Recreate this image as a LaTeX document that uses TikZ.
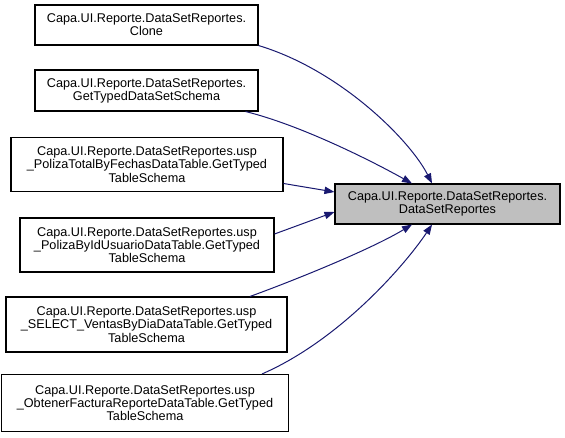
\documentclass[tikz,border=0pt]{standalone}
\usepackage{fontspec}
\setmainfont{Liberation Sans}
\usetikzlibrary{arrows.meta}
\definecolor{edgeblue}{HTML}{191970}
\definecolor{hlgrey}{HTML}{BFBFBF}
\begin{document}
\begin{tikzpicture}[x=0.75pt,y=-0.75pt,
  box/.style={draw=black,line width=0.8pt,fill=white,inner sep=0pt,align=center,
    font=\fontsize{9.5pt}{9.9pt}\selectfont},
  hl/.style={box,fill=hlgrey},
  conn/.style={draw=edgeblue,line width=0.75pt,-{Triangle[length=7.5pt,width=5.5pt]}}]
\useasboundingbox (0,0) rectangle (565,438);
\node[box,minimum width=167.25pt,minimum height=30pt] (n1) at (146.5,25) {Capa.UI.Reporte.DataSetReportes.\\Clone};
\node[box,minimum width=167.25pt,minimum height=30.75pt] (n2) at (146.5,90.5) {Capa.UI.Reporte.DataSetReportes.\\GetTypedDataSetSchema};
\node[box,minimum width=204pt,minimum height=40.5pt] (n3) at (147,164.5) {Capa.UI.Reporte.DataSetReportes.usp\\\_PolizaTotalByFechasDataTable.GetTyped\\TableSchema};
\node[box,minimum width=190.5pt,minimum height=40.5pt] (n4) at (147,245) {Capa.UI.Reporte.DataSetReportes.usp\\\_PolizaByIdUsuarioDataTable.GetTyped\\TableSchema};
\node[box,minimum width=210.75pt,minimum height=41.25pt] (n5) at (146.5,324.5) {Capa.UI.Reporte.DataSetReportes.usp\\\_SELECT\_VentasByDiaDataTable.GetTyped\\TableSchema};
\node[box,minimum width=215.25pt,minimum height=42.75pt] (n6) at (145,403) {Capa.UI.Reporte.DataSetReportes.usp\\\_ObtenerFacturaReporteDataTable.GetTyped\\TableSchema};
\node[hl,minimum width=168.75pt,minimum height=30pt] (t) at (447.5,204) {Capa.UI.Reporte.DataSetReportes.\\DataSetReportes};
\draw[conn] (n1.south east) .. controls (340,70) and (410,140) .. ([xshift=-11.6pt]t.north);
\draw[conn] ([xshift=-9.75pt]n2.south east) .. controls (300,125) and (370,160) .. ([xshift=-26.6pt]t.north);
\draw[conn] ([yshift=-14.25pt]n3.east) -- ([yshift=9pt]t.west);
\draw[conn] ([yshift=8.25pt]n4.east) -- ([yshift=-6pt]t.west);
\draw[conn] ([xshift=77.6pt]n5.north) .. controls (290,282) and (370,250) .. ([xshift=-26.6pt]t.south);
\draw[conn] ([xshift=87.75pt]n6.north) .. controls (340,340) and (405,265) .. ([xshift=-11.6pt]t.south);
\end{tikzpicture}
\end{document}
